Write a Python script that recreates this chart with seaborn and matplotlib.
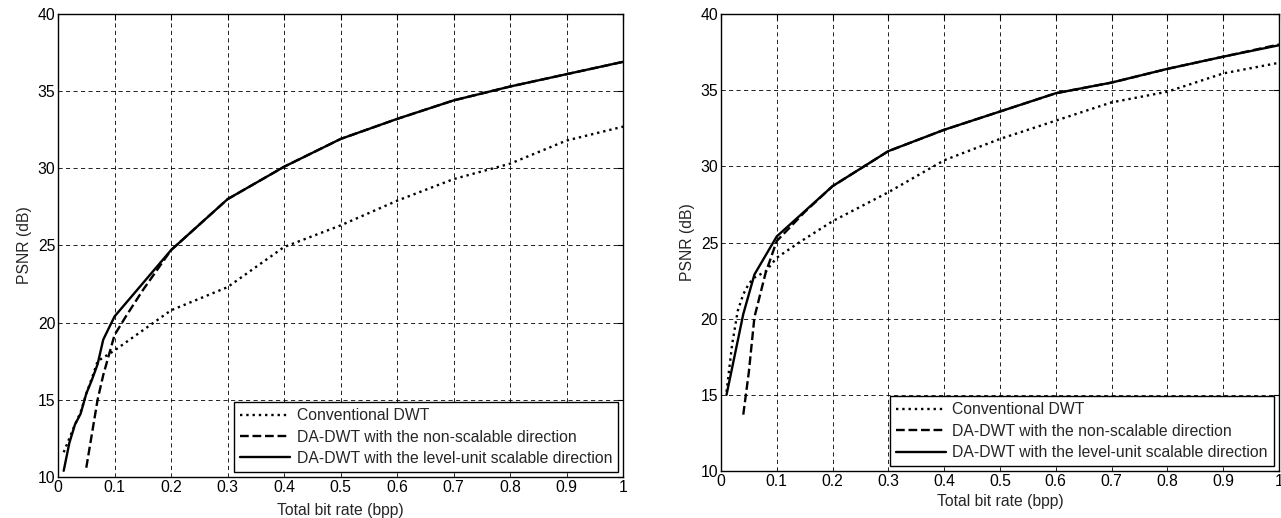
import numpy as np
import pandas as pd
import matplotlib
matplotlib.use("Agg")
import matplotlib.pyplot as plt
import seaborn as sns

# --- dados ---
labels = ["Conventional DWT",
          "DA-DWT with the non-scalable direction",
          "DA-DWT with the level-unit scalable direction"]

# painel esquerdo
l_conv_x = [0.01, 0.02, 0.03, 0.04, 0.05, 0.06, 0.07, 0.1, 0.2, 0.3, 0.4, 0.5, 0.6, 0.7, 0.8, 0.9, 1.0]
l_conv_y = [11.6, 12.5, 13.4, 14.2, 15.4, 16.4, 17.5, 18.2, 20.8, 22.3, 24.9, 26.3, 27.9, 29.3, 30.3, 31.8, 32.7]
l_ns_x = [0.05, 0.06, 0.07, 0.08, 0.1, 0.12, 0.15, 0.2, 0.3, 0.4, 0.5, 0.6, 0.7, 0.8, 0.9, 1.0]
l_ns_y = [10.6, 12.8, 15.0, 16.6, 19.2, 20.4, 22.1, 24.7, 28.0, 30.1, 31.9, 33.2, 34.4, 35.3, 36.1, 36.9]
l_lu_x = [0.01, 0.02, 0.03, 0.04, 0.05, 0.06, 0.07, 0.08, 0.1, 0.2, 0.3, 0.4, 0.5, 0.6, 0.7, 0.8, 0.9, 1.0]
l_lu_y = [10.4, 12.2, 13.4, 14.1, 15.4, 16.3, 17.3, 18.9, 20.4, 24.7, 28.0, 30.1, 31.9, 33.2, 34.4, 35.3, 36.1, 36.9]

# painel direito
r_conv_x = [0.01, 0.02, 0.03, 0.04, 0.05, 0.06, 0.08, 0.1, 0.14, 0.2, 0.3, 0.4, 0.5, 0.6, 0.7, 0.8, 0.9, 1.0]
r_conv_y = [15.2, 18.3, 20.5, 21.6, 22.3, 22.7, 23.1, 24.0, 25.0, 26.4, 28.3, 30.4, 31.8, 33.0, 34.2, 34.9, 36.1, 36.8]
r_ns_x = [0.04, 0.05, 0.06, 0.08, 0.1, 0.15, 0.2, 0.3, 0.4, 0.5, 0.6, 0.7, 0.8, 0.9, 1.0]
r_ns_y = [13.7, 16.5, 20.1, 23.0, 25.1, 27.0, 28.7, 31.0, 32.4, 33.6, 34.8, 35.5, 36.4, 37.2, 38.0]
r_lu_x = [0.01, 0.04, 0.06, 0.1, 0.2, 0.3, 0.4, 0.5, 0.6, 0.7, 0.8, 0.9, 1.0]
r_lu_y = [15.0, 20.3, 22.9, 25.4, 28.7, 31.0, 32.4, 33.6, 34.8, 35.5, 36.4, 37.2, 37.95]

styles = [":", "--", "-"]
fs = 11.3

sns.set_style("white")
plt.rcParams['font.family'] = ['Liberation Sans', 'DejaVu Sans']
plt.rcParams['font.size'] = fs

fig = plt.figure(figsize=(12.81, 5.18), dpi=100)
ax1 = fig.add_axes([0.0453, 0.0792, 0.4411, 0.8938])
ax2 = fig.add_axes([0.5628, 0.0907, 0.4356, 0.8822])

paineis = [
    (ax1, [(l_conv_x, l_conv_y), (l_ns_x, l_ns_y), (l_lu_x, l_lu_y)], 6),
    (ax2, [(r_conv_x, r_conv_y), (r_ns_x, r_ns_y), (r_lu_x, r_lu_y)], 4),
]

for ax, series, xpad in paineis:
    for (xs, ys), lab, ls in zip(series, labels, styles):
        df = pd.DataFrame({'x': xs, 'y': ys})
        sns.lineplot(data=df, x='x', y='y', ax=ax, color='black', linestyle=ls,
                     linewidth=1.7, label=lab, sort=False, estimator=None)
    ax.set_xlim(0, 1)
    ax.set_ylim(10, 40)
    ax.set_xticks(np.arange(0, 1.01, 0.1))
    ax.set_xticklabels(['0'] + [f'{v:.1f}' for v in np.arange(0.1, 0.95, 0.1)] + ['1'])
    ax.set_yticks(np.arange(10, 41, 5))
    ax.grid(True, color='black', linestyle=(0, (5, 4)), linewidth=0.6)
    ax.tick_params(direction='in', length=4, top=True, right=True, labelsize=fs,
                   color='black', labelcolor='black', pad=2)
    for sp in ax.spines.values():
        sp.set_visible(True)
        sp.set_color('black')
        sp.set_linewidth(1.0)
    ax.set_xlabel('Total bit rate (bpp)', fontsize=fs, labelpad=xpad)
    ax.set_ylabel('PSNR (dB)', fontsize=fs, labelpad=4)
    leg = ax.legend(loc='lower right', frameon=True, fancybox=False, fontsize=fs,
                    handlelength=3.2, labelspacing=0.4, borderaxespad=0.3,
                    borderpad=0.4, handletextpad=0.4)
    leg.get_frame().set_edgecolor('black')
    leg.get_frame().set_linewidth(1.0)
    leg.get_frame().set_alpha(1)

fig.savefig('out.png', dpi=100)
